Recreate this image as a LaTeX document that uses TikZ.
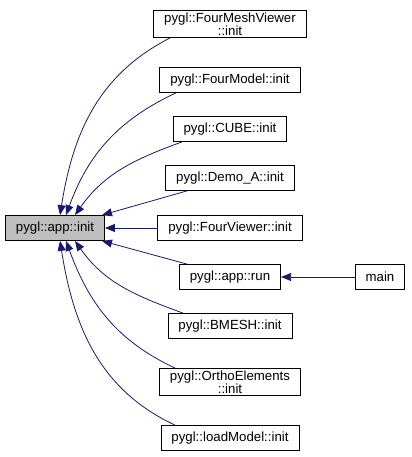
\documentclass[tikz,border=0pt]{standalone}
\usepackage{fontspec}
\setmainfont{Liberation Sans}
\usetikzlibrary{arrows.meta,positioning}
\definecolor{callblue}{HTML}{191970}
\tikzset{
  fn/.style={draw=black, fill=white, align=center, line width=0.8bp,
             minimum height=25bp, inner xsep=10.5bp, inner ysep=2bp,
             font=\fontsize{13.3}{13.5}\selectfont},
  fnroot/.style={fn, fill=black!25},
  callarrow/.style={-{Triangle[length=10bp,width=8bp]}, color=callblue, line width=0.8bp}
}
\begin{document}
\begin{tikzpicture}[x=1bp, y=1bp]
\useasboundingbox (0,0) rectangle (411,-457);
\node[fnroot] (app) at (55,-228) {pygl::app::init};
\node[fn] (fmv) at (230,-24) {pygl::FourMeshViewer\\::init};
\node[fn] (fmodel) at (230,-80) {pygl::FourModel::init};
\node[fn] (cube) at (230,-129) {pygl::CUBE::init};
\node[fn] (demo) at (230,-178) {pygl::Demo\_A::init};
\node[fn] (fview) at (230,-228) {pygl::FourViewer::init};
\node[fn] (run) at (230,-277) {pygl::app::run};
\node[fn] (main) at (380,-277) {main};
\node[fn] (bmesh) at (230,-326) {pygl::BMESH::init};
\node[fn] (ortho) at (230,-382) {pygl::OrthoElements\\::init};
\node[fn] (load) at (230,-438) {pygl::loadModel::init};
% callers of app::init
\draw[callarrow] ([xshift=-60bp]fmv.south) to[out=207, in=81] ([xshift=5bp]app.north);
\draw[callarrow] ([xshift=-54bp]fmodel.south) to[out=205, in=70] ([xshift=11bp]app.north);
\draw[callarrow] ([xshift=-48bp]cube.south) to[out=200, in=55] ([xshift=20bp]app.north);
\draw[callarrow] ([xshift=-43bp]demo.south) -- ([xshift=47bp]app.north);
\draw[callarrow] (fview) -- (app);
\draw[callarrow] ([xshift=-43bp]run.north) -- ([xshift=47bp]app.south);
\draw[callarrow] ([xshift=-47bp]bmesh.north) to[out=160, in=-55] ([xshift=20bp]app.south);
\draw[callarrow] ([xshift=-55bp]ortho.north) to[out=155, in=-70] ([xshift=11bp]app.south);
\draw[callarrow] ([xshift=-55bp]load.north) to[out=155, in=-81] ([xshift=5bp]app.south);
\draw[callarrow] (main) -- (run);
\end{tikzpicture}
\end{document}
